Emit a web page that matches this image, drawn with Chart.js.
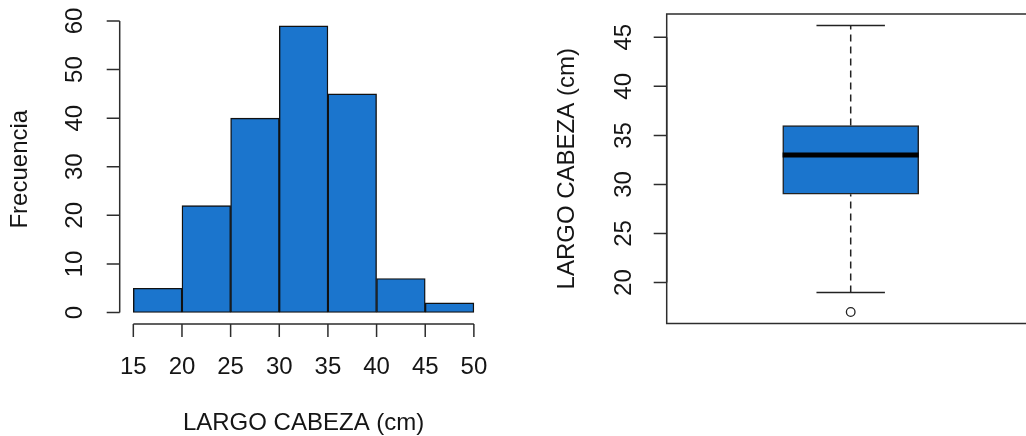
<!DOCTYPE html>
<html>
<head>
<meta charset="utf-8">
<script src="https://cdn.jsdelivr.net/npm/chart.js@4.4.1/dist/chart.umd.min.js"></script>
<style>
html, body { margin: 0; padding: 0; background: #fff; overflow: hidden; width: 1026px; height: 436px; }
#hist { position: absolute; left: 0; top: 0; }
#box { position: absolute; left: 513px; top: 0; }
</style>
</head>
<body>
<canvas id="hist" width="513" height="436"></canvas>
<canvas id="box" width="530" height="436"></canvas>
<script>
// histograma
const breaks = [15, 20, 25, 30, 35, 40, 45, 50];
const frecuencias = [5, 22, 40, 59, 45, 7, 2];
const histYTicks = [0, 10, 20, 30, 40, 50, 60];

// boxplot
const bigotes = [19, 46.2];
const cuartiles = [29, 36];
const mediana = 33;
const atipicos = [17];
const boxYTicks = [20, 25, 30, 35, 40, 45];

const tituloX = 'LARGO CABEZA (cm)';
const tituloFrec = 'Frecuencia';

const azul = '#1b75cd';
const negro = '#151515';
const fuente = '24px "Liberation Sans", Arial, sans-serif';

// ejes estilo R (linea solo entre primer y ultimo tick)
const rAxes = {
    id: 'rAxes',
    afterDraw(chart, args, o) {
        const { ctx, chartArea: a, scales } = chart;
        ctx.save();
        ctx.strokeStyle = '#2d2d2d';
        ctx.fillStyle = negro;
        ctx.lineWidth = 1.5;
        ctx.font = fuente;
        ctx.textAlign = 'center';
        ctx.textBaseline = 'middle';

        const yp = o.yTicks.map(v => scales.y.getPixelForValue(v));
        ctx.beginPath();
        ctx.moveTo(a.left, yp[0]);
        ctx.lineTo(a.left, yp[yp.length - 1]);
        yp.forEach(p => { ctx.moveTo(a.left, p); ctx.lineTo(a.left - 13, p); });
        ctx.stroke();
        o.yTicks.forEach((v, i) => {
            ctx.save();
            ctx.translate(a.left - o.yLabelGap, yp[i]);
            ctx.rotate(-Math.PI / 2);
            ctx.fillText(String(v), 0, 0);
            ctx.restore();
        });
        ctx.save();
        ctx.translate(a.left - 99, (a.top + a.bottom) / 2);
        ctx.rotate(-Math.PI / 2);
        ctx.fillText(o.yTitle, 0, 0);
        ctx.restore();

        if (o.xTicks) {
            const xp = o.xTicks.map(v => scales.x.getPixelForValue(v));
            ctx.beginPath();
            ctx.moveTo(xp[0], a.bottom);
            ctx.lineTo(xp[xp.length - 1], a.bottom);
            xp.forEach(p => { ctx.moveTo(p, a.bottom); ctx.lineTo(p, a.bottom + 13); });
            ctx.stroke();
            o.xTicks.forEach((v, i) => ctx.fillText(String(v), xp[i], a.bottom + 43));
            ctx.fillText(o.xTitle, (a.left + a.right) / 2, a.bottom + 99.5);
        }

        if (o.frame) {
            ctx.strokeRect(a.left, a.top, a.right - a.left, a.bottom - a.top);
        }
        ctx.restore();
    }
};

window.onload = function() {
    new Chart(document.getElementById('hist'), {
        type: 'bar',
        data: {
            datasets: [{
                data: frecuencias.map((f, i) => ({ x: (breaks[i] + breaks[i + 1]) / 2, y: f })),
                backgroundColor: azul,
                borderColor: '#111',
                borderWidth: 1.4,
                borderSkipped: false,
                barPercentage: 1,
                categoryPercentage: 1
            }]
        },
        options: {
            responsive: false,
            animation: false,
            devicePixelRatio: 1,
            layout: { padding: { left: 119.7, right: 25.5, top: 14.4, bottom: 112 } },
            plugins: {
                legend: { display: false },
                tooltip: { enabled: false },
                rAxes: { yTicks: histYTicks, xTicks: breaks, yLabelGap: 44, yTitle: tituloFrec, xTitle: tituloX, frame: false }
            },
            scales: {
                x: { type: 'linear', display: false, offset: false, min: 13.6, max: 51.4, ticks: { stepSize: 5, includeBounds: false } },
                y: { type: 'linear', display: false, min: -2.36, max: 61.36 }
            }
        },
        plugins: [rAxes]
    });

    const linea = { type: 'line', borderColor: '#222', borderWidth: 1.5, pointRadius: 0, fill: false, order: 1 };

    new Chart(document.getElementById('box'), {
        type: 'bar',
        data: {
            datasets: [
                {
                    type: 'bar',
                    data: [{ x: 1, y: cuartiles }],
                    backgroundColor: azul,
                    borderColor: '#222',
                    borderWidth: 1.5,
                    borderSkipped: false,
                    barThickness: 136,
                    order: 2
                },
                Object.assign({}, linea, { data: [{ x: 1, y: cuartiles[1] }, { x: 1, y: bigotes[1] }], borderDash: [7, 5] }),
                Object.assign({}, linea, { data: [{ x: 1, y: bigotes[0] }, { x: 1, y: cuartiles[0] }], borderDash: [7, 5] }),
                Object.assign({}, linea, { data: [{ x: 0.907, y: bigotes[1] }, { x: 1.093, y: bigotes[1] }] }),
                Object.assign({}, linea, { data: [{ x: 0.907, y: bigotes[0] }, { x: 1.093, y: bigotes[0] }] }),
                Object.assign({}, linea, { data: [{ x: 0.815, y: mediana }, { x: 1.185, y: mediana }], borderColor: '#000', borderWidth: 5, order: 0 }),
                {
                    type: 'line',
                    data: atipicos.map(v => ({ x: 1, y: v })),
                    showLine: false,
                    pointRadius: 4.3,
                    pointBackgroundColor: 'rgba(0,0,0,0)',
                    pointBorderColor: '#222',
                    pointBorderWidth: 1.3,
                    order: 0
                }
            ]
        },
        options: {
            responsive: false,
            animation: false,
            devicePixelRatio: 1,
            layout: { padding: { left: 153.7, right: 8.3, top: 14, bottom: 112.5 } },
            plugins: {
                legend: { display: false },
                tooltip: { enabled: false },
                rAxes: { yTicks: boxYTicks, xTicks: null, yLabelGap: 42, yTitle: tituloX, frame: true }
            },
            scales: {
                x: { type: 'linear', display: false, offset: false, min: 0.5, max: 1.5 },
                y: { type: 'linear', display: false, min: 15.83, max: 47.37 }
            }
        },
        plugins: [rAxes]
    });
};
</script>
</body>
</html>
